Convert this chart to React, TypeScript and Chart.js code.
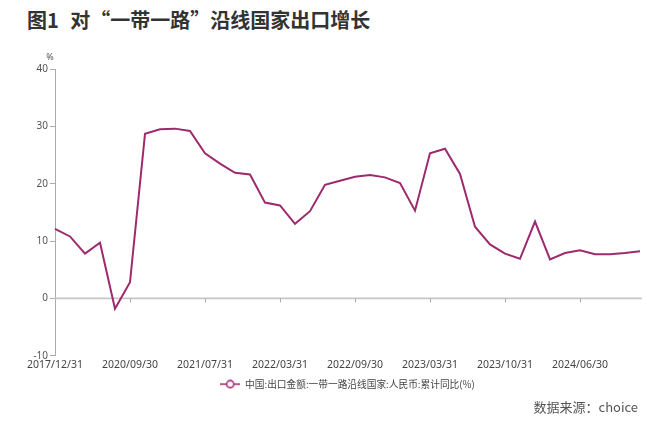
import React, { useEffect, useRef } from "react";
import { Chart, registerables } from "chart.js";

Chart.register(...registerables);

const titleText = "图1 对“一带一路”沿线国家出口增长";
const sourceText = "数据来源：choice";
const unitLabel = "%";
const seriesName = "中国:出口金额:一带一路沿线国家:人民币:累计同比(%)";

const dates = [
  "2017/12/31", "2018/12/31", "2019/06/30", "2019/12/31", "2020/03/31",
  "2020/09/30", "2021/02/28", "2021/03/31", "2021/04/30", "2021/05/31",
  "2021/07/31", "2021/08/31", "2021/09/30", "2021/10/31", "2021/12/31",
  "2022/03/31", "2022/04/30", "2022/05/31", "2022/06/30", "2022/07/31",
  "2022/09/30", "2022/10/31", "2022/11/30", "2022/12/31", "2023/02/28",
  "2023/03/31", "2023/04/30", "2023/05/31", "2023/06/30", "2023/08/31",
  "2023/10/31", "2023/11/30", "2023/12/31", "2024/02/29", "2024/03/31",
  "2024/06/30", "2024/07/31", "2024/08/31", "2024/09/30", "2024/10/31",
];

const exportGrowth = [
  12.1, 10.8, 7.8, 9.7, -1.8,
  2.8, 28.7, 29.5, 29.6, 29.2,
  25.3, 23.5, 21.9, 21.6, 16.7,
  16.2, 13.0, 15.2, 19.8, 20.5,
  21.2, 21.5, 21.1, 20.1, 15.3,
  25.3, 26.1, 21.7, 12.5, 9.4,
  7.8, 6.9, 13.4, 6.8, 7.9,
  8.4, 7.7, 7.7, 7.9, 8.2,
];

const yMin = -10;
const yMax = 40;
const yStep = 10;
const labelEvery = 5;

const lineColor = "#9E2A6E";
const markerColor = "#A8307A";
const axisColor = "#ababab";
const textColor = "#555555";
const cjkFont = "'Noto Sans CJK SC', 'Noto Sans', sans-serif";
const latinFont = "'Noto Sans', 'Open Sans', sans-serif";

function makeLegendMarker(): HTMLCanvasElement {
  const c = document.createElement("canvas");
  c.width = 20;
  c.height = 10;
  const g = c.getContext("2d")!;
  g.strokeStyle = markerColor;
  g.lineWidth = 1.6;
  g.beginPath();
  g.moveTo(0, 5);
  g.lineTo(20, 5);
  g.stroke();
  g.beginPath();
  g.arc(10, 5, 3.6, 0, Math.PI * 2);
  g.fillStyle = "#ffffff";
  g.fill();
  g.stroke();
  return c;
}

export default function App() {
  const canvasRef = useRef<HTMLCanvasElement | null>(null);

  useEffect(() => {
    if (!canvasRef.current) return;
    const marker = makeLegendMarker();

    const axisExtras = {
      id: "axisExtras",
      beforeDatasetsDraw(chart: any) {
        const { ctx, chartArea, scales } = chart;
        const x = scales.x;
        const y = scales.y;
        const y0 = y.getPixelForValue(0);
        ctx.save();
        ctx.strokeStyle = "#c6c6c6";
        ctx.lineWidth = 1.6;
        ctx.beginPath();
        ctx.moveTo(chartArea.left, y0);
        ctx.lineTo(chartArea.right + 2, y0);
        ctx.stroke();
        ctx.strokeStyle = axisColor;
        ctx.lineWidth = 1;
        ctx.beginPath();
        for (let i = labelEvery; i < dates.length; i += labelEvery) {
          const px = Math.round(x.getPixelForValue(i)) + 0.5;
          ctx.moveTo(px, y0);
          ctx.lineTo(px, y0 + 4);
        }
        ctx.stroke();
        ctx.restore();
      },
      afterDraw(chart: any) {
        const { ctx, chartArea, scales } = chart;
        const y = scales.y;
        ctx.save();
        ctx.fillStyle = textColor;
        ctx.font = `9px ${latinFont}`;
        ctx.textAlign = "center";
        ctx.textBaseline = "middle";
        ctx.fillText(unitLabel, y.right - 5, chartArea.top - 12);
        ctx.restore();
      },
    };

    const chart = new Chart(canvasRef.current, {
      type: "line",
      data: {
        labels: dates,
        datasets: [
          {
            label: seriesName,
            data: exportGrowth,
            borderColor: lineColor,
            backgroundColor: lineColor,
            borderWidth: 2,
            pointRadius: 0,
            tension: 0,
            fill: false,
          },
        ],
      },
      options: {
        animation: false,
        responsive: false,
        maintainAspectRatio: false,
        devicePixelRatio: 1,
        layout: { padding: { top: 69, left: 0, right: 20, bottom: 30 } },
        plugins: {
          title: { display: false },
          tooltip: { enabled: false },
          legend: {
            display: true,
            position: "bottom",
            fullSize: false,
            labels: {
              usePointStyle: true,
              pointStyleWidth: 20,
              padding: 5,
              color: "#444444",
              font: { size: 9.7, family: cjkFont },
              generateLabels: () => [
                {
                  text: seriesName,
                  pointStyle: marker as any,
                  fillStyle: markerColor,
                  strokeStyle: markerColor,
                  lineWidth: 0,
                  hidden: false,
                  datasetIndex: 0,
                  fontColor: "#444444",
                } as any,
              ],
            },
          },
        },
        scales: {
          x: {
            type: "category",
            offset: false,
            grid: { display: false, drawTicks: false },
            border: { display: false },
            ticks: {
              autoSkip: false,
              maxRotation: 0,
              minRotation: 0,
              padding: 3,
              color: "#444444",
              font: { size: 10.5, family: latinFont },
              callback: (_v: any, i: number) => (i % labelEvery === 0 ? dates[i] : ""),
            },
          },
          y: {
            min: yMin,
            max: yMax,
            afterFit: (scale: any) => {
              scale.width = 55;
            },
            grid: {
              display: true,
              drawOnChartArea: false,
              drawTicks: true,
              tickLength: 5,
              color: axisColor,
            },
            border: { display: true, color: axisColor, width: 1 },
            ticks: {
              stepSize: yStep,
              padding: 2,
              color: textColor,
              font: { size: 10, family: latinFont },
            },
          },
        },
      },
      plugins: [axisExtras],
    });

    return () => chart.destroy();
  }, []);

  return (
    <div
      style={{
        position: "fixed",
        left: 0,
        top: 0,
        width: 660,
        height: 429,
        background: "#ffffff",
        overflow: "hidden",
      }}
    >
      <div
        style={{
          position: "absolute",
          left: 27,
          top: 8,
          fontFamily: cjkFont,
          fontWeight: 700,
          fontSize: 20,
          lineHeight: "24px",
          wordSpacing: 7,
          color: "#333333",
          whiteSpace: "nowrap",
        }}
      >
        {titleText}
      </div>
      <canvas ref={canvasRef} width={660} height={429} style={{ position: "absolute", left: 0, top: 0 }} />
      <div
        style={{
          position: "absolute",
          right: 22,
          top: 398,
          fontFamily: cjkFont,
          fontSize: 13,
          lineHeight: "18px",
          color: "#555555",
          whiteSpace: "nowrap",
        }}
      >
        {sourceText}
      </div>
    </div>
  );
}
